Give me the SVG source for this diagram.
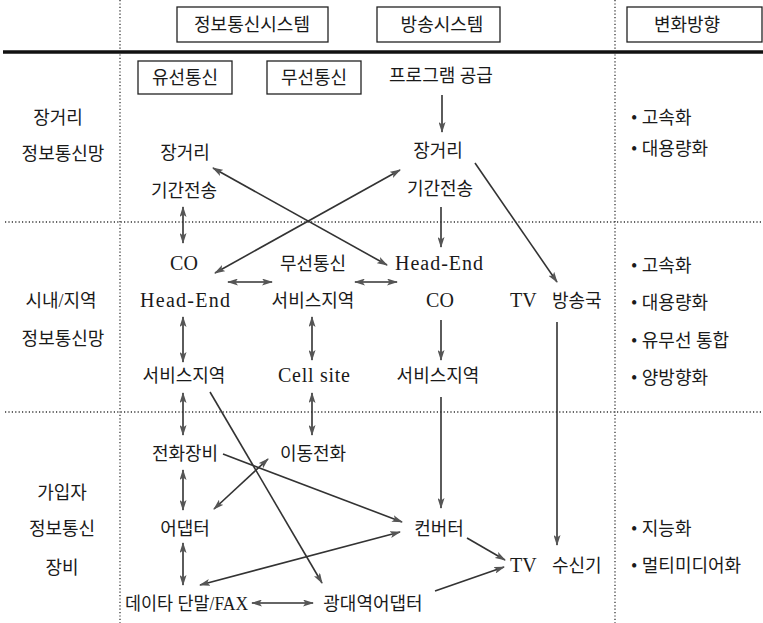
<svg xmlns="http://www.w3.org/2000/svg" width="763" height="623" viewBox="0 0 763 623">
<style>
.t{font-family:"Liberation Serif","Noto Sans CJK KR",serif;font-size:18px;fill:#1a1a1a}
.l{font-family:"Liberation Serif","Noto Sans CJK KR",serif;font-size:20px;fill:#1a1a1a}
.m{text-anchor:middle}
.box{fill:none;stroke:#222;stroke-width:1.3}
.dot{stroke:#333;stroke-width:1.3;stroke-dasharray:1.2 2.2;fill:none}
.c{stroke:#333;stroke-width:1.6;fill:none}
.e{marker-end:url(#ah)}
.b{marker-start:url(#ah);marker-end:url(#ah)}
</style>
<defs>
<marker id="ah" markerUnits="userSpaceOnUse" markerWidth="11" markerHeight="7" refX="10" refY="3.5" orient="auto-start-reverse">
<path d="M0,0 L11,3.5 L0,7 L2.5,3.5 z" fill="#555"/>
</marker>
</defs>
<rect width="763" height="623" fill="#fff"/>

<g id="grid">
<line class="dot" x1="120" y1="0" x2="120" y2="623"/>
<line class="dot" x1="615" y1="0" x2="615" y2="623"/>
<line class="dot" x1="5" y1="222" x2="763" y2="222"/>
<line class="dot" x1="5" y1="412" x2="763" y2="412"/>
<line x1="3" y1="52" x2="763" y2="52" stroke="#111" stroke-width="3.5"/>
</g>

<g id="hdr-info"><rect class="box" x="177" y="7" width="151" height="35"/><text class="t m" x="252" y="31">정보통신시스템</text></g>
<g id="hdr-broadcast"><rect class="box" x="377" y="7" width="123" height="35"/><text class="t m" x="442" y="31">방송시스템</text></g>
<g id="hdr-change"><rect class="box" x="627" y="7" width="135" height="35"/><text class="t m" x="687" y="31">변화방향</text></g>
<g id="sub-wired"><rect class="box" x="138" y="61" width="94" height="33"/><text class="t m" x="185" y="84">유선통신</text></g>
<g id="sub-wireless"><rect class="box" x="267" y="61" width="94" height="33"/><text class="t m" x="314" y="84">무선통신</text></g>
<g id="program"><text class="t m" x="441" y="82">프로그램 공급</text></g>

<g id="row-labels">
<text class="t m" x="58" y="124">장거리</text>
<text class="t m" x="63" y="160">정보통신망</text>
<text class="t m" x="61" y="307">시내/지역</text>
<text class="t m" x="63" y="345">정보통신망</text>
<text class="t m" x="62" y="499">가입자</text>
<text class="t m" x="62" y="535">정보통신</text>
<text class="t m" x="62" y="574">장비</text>
</g>

<g id="trends">
<text class="t" x="631" y="124">• 고속화</text>
<text class="t" x="631" y="155">• 대용량화</text>
<text class="t" x="631" y="272">• 고속화</text>
<text class="t" x="631" y="309">• 대용량화</text>
<text class="t" x="631" y="347">• 유무선 통합</text>
<text class="t" x="631" y="384">• 양방향화</text>
<text class="t" x="631" y="535">• 지능화</text>
<text class="t" x="631" y="572">• 멀티미디어화</text>
</g>

<g id="w-long"><text class="t m" x="185" y="159">장거리</text></g>
<g id="w-backbone"><text class="t m" x="184" y="197">기간전송</text></g>
<g id="w-co"><text class="l m" x="184" y="270">CO</text></g>
<g id="w-headend"><text class="l m" x="185" y="307" textLength="90">Head-End</text></g>
<g id="w-service"><text class="t m" x="184" y="382">서비스지역</text></g>
<g id="phone"><text class="t m" x="185" y="460">전화장비</text></g>
<g id="adapter"><text class="t m" x="185" y="535">어댑터</text></g>
<g id="data-fax"><text class="t" x="125" y="610" textLength="123" lengthAdjust="spacingAndGlyphs">데이타 단말/FAX</text></g>
<g id="bb-adapter"><text class="t m" x="373" y="610">광대역어댑터</text></g>

<g id="r-wireless"><text class="t m" x="313" y="270">무선통신</text></g>
<g id="r-service"><text class="t m" x="313" y="307">서비스지역</text></g>
<g id="cell"><text class="l m" x="314" y="382" textLength="72">Cell site</text></g>
<g id="mobile"><text class="t m" x="313" y="460">이동전화</text></g>

<g id="b-long"><text class="t m" x="438" y="157">장거리</text></g>
<g id="b-backbone"><text class="t m" x="440" y="195">기간전송</text></g>
<g id="b-headend"><text class="l m" x="439" y="270" textLength="88">Head-End</text></g>
<g id="b-co"><text class="l m" x="440" y="307">CO</text></g>
<g id="b-service"><text class="t m" x="438" y="382">서비스지역</text></g>
<g id="converter"><text class="t m" x="439" y="535">컨버터</text></g>
<g id="tv-station"><text class="t" y="307"><tspan class="l" x="510">TV</tspan><tspan x="552">방송국</tspan></text></g>
<g id="tv-receiver"><text class="t" y="572"><tspan class="l" x="510">TV</tspan><tspan x="552">수신기</tspan></text></g>

<g id="connectors">
<line class="c b" x1="183" y1="207" x2="183" y2="243"/>
<line class="c b" x1="183" y1="317" x2="183" y2="362"/>
<line class="c b" x1="183" y1="393" x2="183" y2="435"/>
<line class="c b" x1="183" y1="470" x2="183" y2="510"/>
<line class="c b" x1="183" y1="543" x2="183" y2="585"/>
<line class="c b" x1="312" y1="317" x2="312" y2="360"/>
<line class="c b" x1="312" y1="393" x2="312" y2="435"/>
<line class="c e" x1="442" y1="95" x2="442" y2="132"/>
<line class="c e" x1="441" y1="207" x2="441" y2="247"/>
<line class="c e" x1="441" y1="320" x2="441" y2="360"/>
<line class="c e" x1="441" y1="397" x2="441" y2="508"/>
<line class="c e" x1="557" y1="322" x2="557" y2="545"/>
<line class="c b" x1="228" y1="282" x2="272" y2="282"/>
<line class="c b" x1="355" y1="282" x2="397" y2="282"/>
<line class="c b" x1="252" y1="603" x2="313" y2="603"/>
<line class="c b" x1="213" y1="168" x2="387" y2="265"/>
<line class="c b" x1="400" y1="170" x2="215" y2="273"/>
<line class="c e" x1="475" y1="163" x2="557" y2="282"/>
<line class="c e" x1="210" y1="392" x2="322" y2="583"/>
<line class="c e" x1="223" y1="454" x2="402" y2="522"/>
<line class="c b" x1="268" y1="459" x2="214" y2="509"/>
<line class="c b" x1="400" y1="532" x2="200" y2="585"/>
<line class="c e" x1="467" y1="538" x2="505" y2="560"/>
<line class="c e" x1="435" y1="591" x2="504" y2="567"/>
</g>
</svg>
